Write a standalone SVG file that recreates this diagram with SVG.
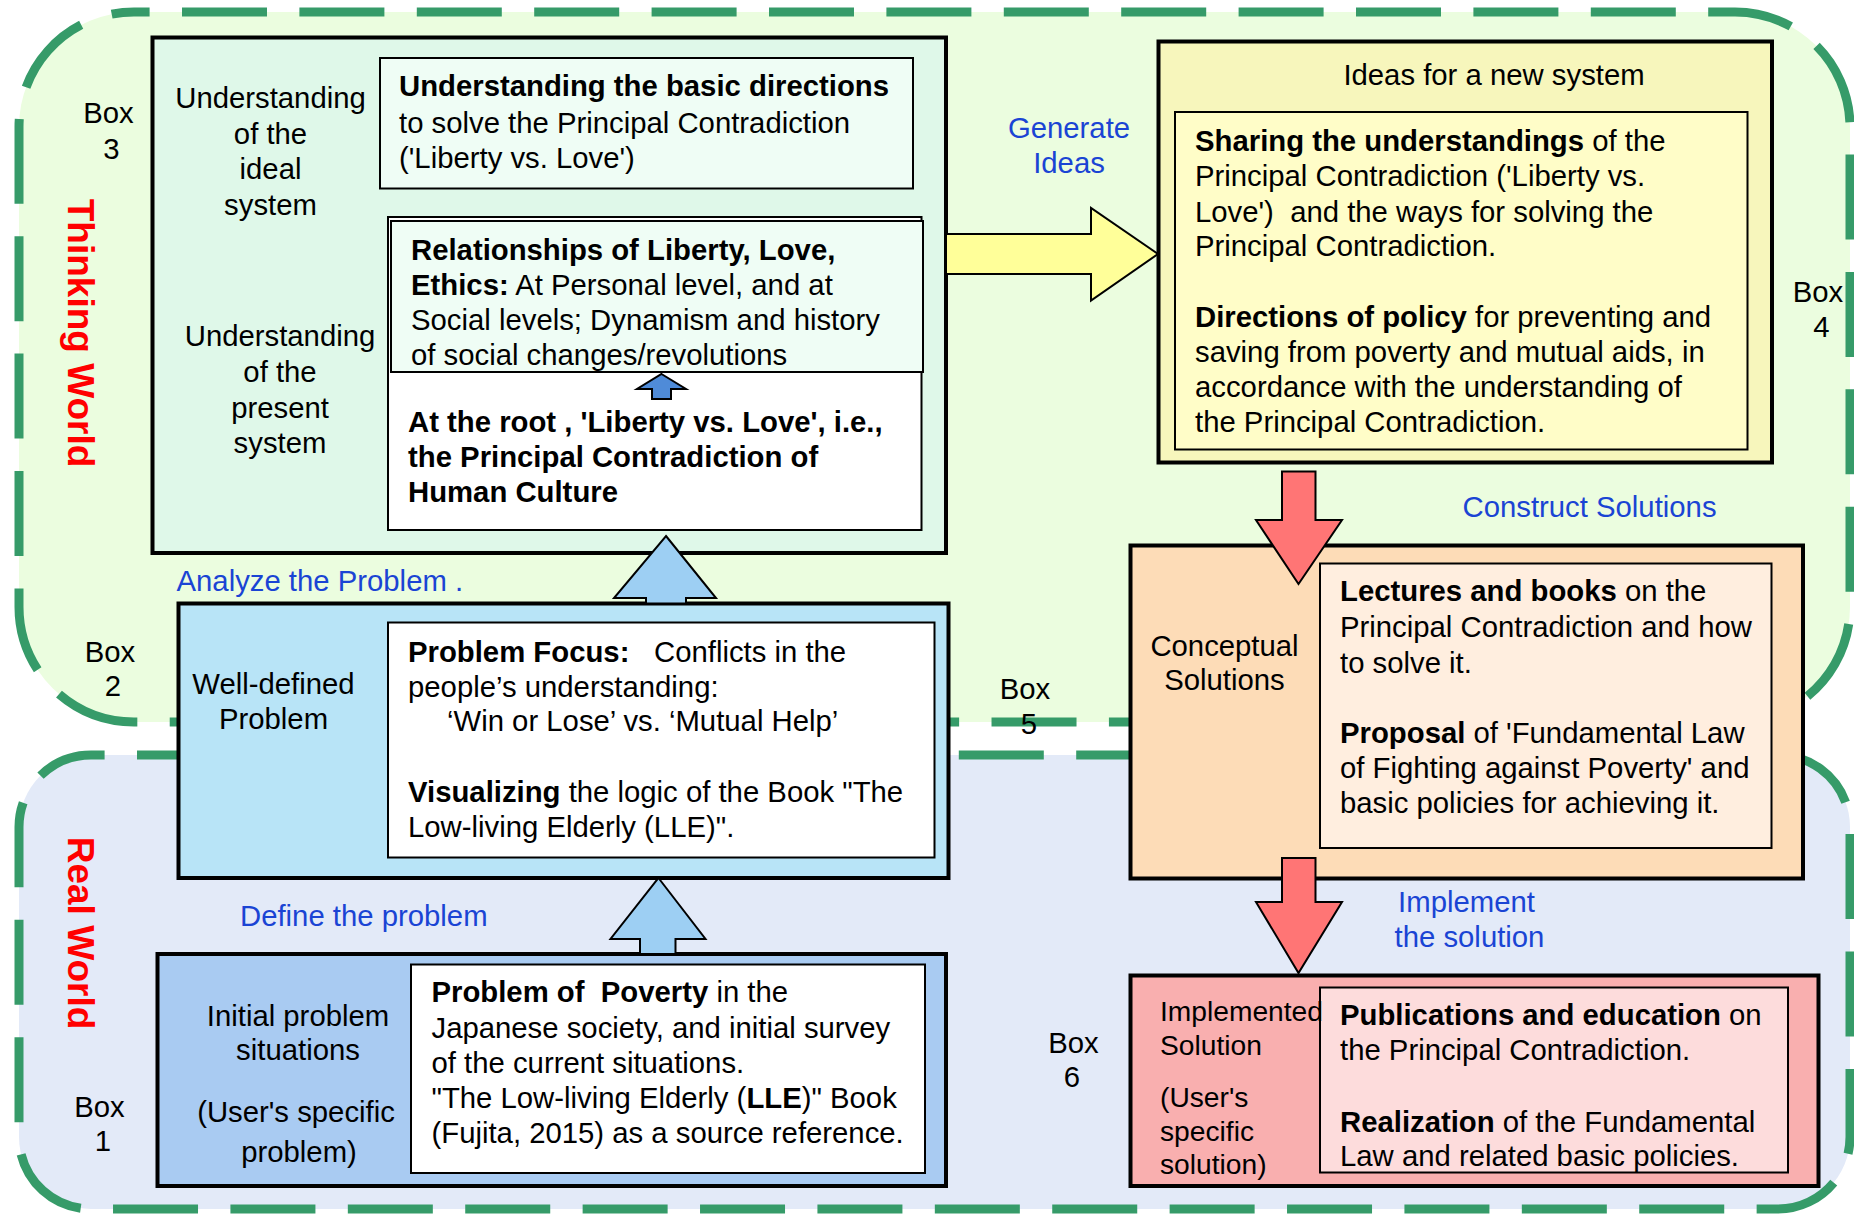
<svg xmlns="http://www.w3.org/2000/svg" width="1854" height="1214" viewBox="0 0 1854 1214">
  <style>
    .t { font-family: "Liberation Sans", Arial, sans-serif; font-size: 29.3px; fill: #000; }
    .b { font-weight: bold; }
    .s28 { font-size: 28.2px; }
    .mid { text-anchor: middle; }
    .blue { fill: #1a44d4; }
    .world { font-family: "Liberation Sans", Arial, sans-serif; font-size: 37px; font-weight: bold; fill: #ff0000; text-anchor: middle; }
    .region { stroke: #369b69; stroke-width: 9; stroke-dasharray: 85 32.4; }
    .outer { stroke: #000; stroke-width: 4; }
    .inner { stroke: #000; stroke-width: 2; }
    .arrow { stroke: #000; stroke-width: 2; stroke-linejoin: miter; }
  </style>

  <rect width="1854" height="1214" fill="#ffffff"/>

  <!-- Two world regions -->
  <g id="regions">
    <rect id="thinking-world" class="region" x="19" y="12" width="1831" height="710" rx="115" ry="115" fill="#ebfddf" stroke-dashoffset="69.4"/>
    <rect id="real-world" class="region" x="19" y="755" width="1831" height="454" rx="72" ry="72" fill="#e3eaf8" stroke-dashoffset="71.4"/>
    <text class="world" transform="translate(68,333) rotate(90)">Thinking World</text>
    <text class="world" transform="translate(68,933) rotate(90)">Real World</text>
  </g>

  <!-- Box 3: understanding of the ideal / present system -->
  <g id="box3">
    <rect class="outer" x="152.5" y="37.5" width="793.5" height="515.5" fill="#dff8e9"/>
    <rect class="inner" x="380" y="58" width="533" height="130.5" fill="#effdf5"/>
    <rect class="inner" x="388" y="217" width="533.5" height="313" fill="#ffffff"/>
    <rect class="inner" x="391" y="221" width="532" height="151" fill="#effdf5"/>
    <text class="t mid" x="108.5" y="123">Box</text>
    <text class="t mid" x="111.5" y="159">3</text>
    <text class="t mid" x="270.5" y="108">Understanding</text>
    <text class="t mid" x="270.5" y="144">of the</text>
    <text class="t mid" x="270.5" y="179">ideal</text>
    <text class="t mid" x="270.5" y="215">system</text>
    <text class="t mid" x="280" y="346">Understanding</text>
    <text class="t mid" x="280" y="382">of the</text>
    <text class="t mid" x="280" y="418">present</text>
    <text class="t mid" x="280" y="453">system</text>
    <text class="t b" x="399" y="96">Understanding the basic directions</text>
    <text class="t" x="399" y="133">to solve the Principal Contradiction</text>
    <text class="t" x="399" y="168">('Liberty vs. Love')</text>
    <text class="t b" x="411" y="260">Relationships of Liberty, Love,</text>
    <text class="t" x="411" y="295"><tspan class="b">Ethics:</tspan> At Personal level, and at</text>
    <text class="t" x="411" y="330">Social levels; Dynamism and history</text>
    <text class="t" x="411" y="365">of social changes/revolutions</text>
    <text class="t b" x="408" y="432">At the root , 'Liberty vs. Love', i.e.,</text>
    <text class="t b" x="408" y="467">the Principal Contradiction of</text>
    <text class="t b" x="408" y="502">Human Culture</text>
  </g>

  <!-- Box 2: well-defined problem -->
  <g id="box2">
    <rect class="outer" x="178.5" y="603.5" width="770" height="274.5" fill="#b8e4f7"/>
    <rect class="inner" x="388" y="622.5" width="546.5" height="235" fill="#ffffff"/>
    <text class="t mid" x="110" y="662">Box</text>
    <text class="t mid" x="113" y="696">2</text>
    <text class="t mid" x="273.5" y="694">Well-defined</text>
    <text class="t mid" x="273.5" y="729">Problem</text>
    <text class="t" x="408" y="662"><tspan class="b">Problem Focus:</tspan><tspan x="654">Conflicts in the</tspan></text>
    <text class="t" x="408" y="697">people’s understanding:</text>
    <text class="t" x="447" y="731">‘Win or Lose’ vs. ‘Mutual Help’</text>
    <text class="t" x="408" y="802"><tspan class="b">Visualizing</tspan> the logic of the Book "The</text>
    <text class="t" x="408" y="837">Low-living Elderly (LLE)".</text>
  </g>

  <!-- Box 1: initial problem situations -->
  <g id="box1">
    <rect class="outer" x="157.5" y="954" width="788.5" height="232" fill="#a9cbf2"/>
    <rect class="inner" x="411" y="964.5" width="514" height="208.5" fill="#ffffff"/>
    <text class="t mid" x="99.5" y="1117">Box</text>
    <text class="t mid" x="103" y="1151">1</text>
    <text class="t mid" x="298" y="1026">Initial problem</text>
    <text class="t mid" x="298" y="1060">situations</text>
    <text class="t mid" x="296" y="1122">(User's specific</text>
    <text class="t mid" x="299" y="1162">problem)</text>
    <text class="t" x="431.5" y="1002" xml:space="preserve"><tspan class="b">Problem of  Poverty</tspan> in the</text>
    <text class="t" x="431.5" y="1038">Japanese society, and initial survey</text>
    <text class="t" x="431.5" y="1073">of the current situations.</text>
    <text class="t" x="431.5" y="1108">"The Low-living Elderly (<tspan class="b">LLE</tspan>)" Book</text>
    <text class="t" x="431.5" y="1143">(Fujita, 2015) as a source reference.</text>
  </g>

  <!-- Box 4: ideas for a new system -->
  <g id="box4">
    <rect class="outer" x="1158.5" y="41.5" width="613.5" height="421" fill="#f7f6bc"/>
    <rect class="inner" x="1175" y="112" width="572.5" height="337.5" fill="#fffdc8"/>
    <text class="t mid" x="1494" y="85">Ideas for a new system</text>
    <text class="t mid" x="1818" y="302">Box</text>
    <text class="t mid" x="1821.5" y="337">4</text>
    <text class="t" x="1195" y="151"><tspan class="b">Sharing the understandings</tspan> of the</text>
    <text class="t" x="1195" y="186">Principal Contradiction ('Liberty vs.</text>
    <text class="t" x="1195" y="221.5" xml:space="preserve">Love')  and the ways for solving the</text>
    <text class="t" x="1195" y="256">Principal Contradiction.</text>
    <text class="t" x="1195" y="327"><tspan class="b">Directions of policy</tspan> for preventing and</text>
    <text class="t" x="1195" y="362">saving from poverty and mutual aids, in</text>
    <text class="t" x="1195" y="397">accordance with the understanding of</text>
    <text class="t" x="1195" y="432">the Principal Contradiction.</text>
  </g>

  <!-- Box 5: conceptual solutions -->
  <g id="box5">
    <rect class="outer" x="1130.5" y="545.5" width="672.5" height="333" fill="#fddcb7"/>
    <rect class="inner" x="1320" y="563.5" width="451.5" height="284.5" fill="#ffeedf"/>
    <text class="t mid" x="1025" y="699">Box</text>
    <text class="t mid" x="1029" y="734">5</text>
    <text class="t mid" x="1224.5" y="656">Conceptual</text>
    <text class="t mid" x="1224.5" y="690">Solutions</text>
    <text class="t" x="1340" y="601"><tspan class="b">Lectures and books</tspan> on the</text>
    <text class="t" x="1340" y="637">Principal Contradiction and how</text>
    <text class="t" x="1340" y="672.5">to solve it.</text>
    <text class="t" x="1340" y="742.5"><tspan class="b">Proposal</tspan> of 'Fundamental Law</text>
    <text class="t" x="1340" y="778">of Fighting against Poverty' and</text>
    <text class="t" x="1340" y="813">basic policies for achieving it.</text>
  </g>

  <!-- Box 6: implemented solution -->
  <g id="box6">
    <rect class="outer" x="1130.5" y="975.5" width="688" height="210.5" fill="#f9afaf"/>
    <rect class="inner" x="1320" y="987.5" width="468" height="185" fill="#fddcdc"/>
    <text class="t mid" x="1073.5" y="1053">Box</text>
    <text class="t mid" x="1072" y="1087">6</text>
    <text class="t s28" x="1160" y="1021">Implemented</text>
    <text class="t s28" x="1160" y="1054.5">Solution</text>
    <text class="t s28" x="1160" y="1107">(User's</text>
    <text class="t s28" x="1160" y="1141">specific</text>
    <text class="t s28" x="1160" y="1174">solution)</text>
    <text class="t" x="1340" y="1025"><tspan class="b">Publications and education</tspan> on</text>
    <text class="t" x="1340" y="1060">the Principal Contradiction.</text>
    <text class="t" x="1340" y="1131.5"><tspan class="b">Realization</tspan> of the Fundamental</text>
    <text class="t" x="1340" y="1166">Law and related basic policies.</text>
  </g>

  <!-- Block arrows between the boxes, with their labels -->
  <g id="connectors">
    <!-- root contradiction up to relationships -->
    <polygon class="arrow" fill="#4f8bd8" stroke-width="1.5" points="661.5,374 686,389 671,389 671,399 652,399 652,389 637,389"/>
    <!-- Box 1 to Box 2 -->
    <polygon class="arrow" fill="#9dcff3" points="658.5,878 705.5,939 675.5,939 675.5,954 640,954 640,939 610.5,939"/>
    <!-- Box 2 to Box 3 -->
    <polygon class="arrow" fill="#9dcff3" points="666,536 716,598 686,598 686,603.5 646,603.5 646,598 614,598"/>
    <!-- Box 3 to Box 4 -->
    <polygon class="arrow" fill="#ffff99" points="946,234 1091,234 1091,208 1158,254 1091,300.5 1091,274 946,274"/>
    <!-- Box 4 to Box 5 -->
    <polygon class="arrow" fill="#ff7575" points="1282,471.5 1315.5,471.5 1315.5,520 1342,520 1298.5,584 1256,520 1282,520"/>
    <!-- Box 5 to Box 6 -->
    <polygon class="arrow" fill="#ff7575" points="1282,858 1315.5,858 1315.5,902 1342,902 1298.5,973 1256,902 1282,902"/>

    <text class="t blue" x="176.5" y="591">Analyze the Problem .</text>
    <text class="t blue" x="240" y="926">Define the problem</text>
    <text class="t blue mid" x="1069" y="138">Generate</text>
    <text class="t blue mid" x="1069" y="173">Ideas</text>
    <text class="t blue" x="1462.5" y="517">Construct Solutions</text>
    <text class="t blue mid" x="1466.5" y="911.5">Implement</text>
    <text class="t blue mid" x="1469.5" y="947">the solution</text>
  </g>
</svg>
